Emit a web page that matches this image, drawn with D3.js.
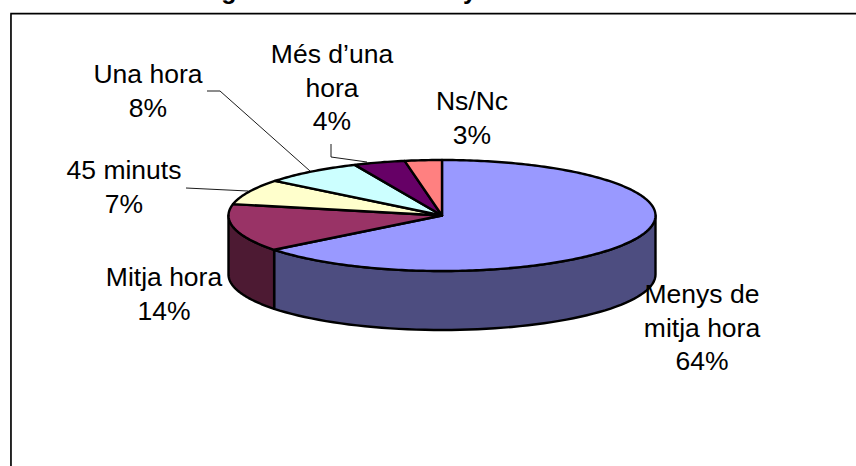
<!DOCTYPE html>
<html>
<head>
<meta charset="utf-8">
<style>
html,body{margin:0;padding:0;background:#fff}
svg{display:block}
text{font-family:"Liberation Sans",Arial,sans-serif;fill:#000}
</style>
<script src="https://cdn.jsdelivr.net/npm/d3@7/dist/d3.min.js"></script>
</head>
<body>
<svg id="c" width="856" height="466"></svg>
<script>
const categories = ["Menys de mitja hora","Mitja hora","45 minuts","Una hora","Més d’una hora","Ns/Nc"];
const values = [64.4,13.9,7.4,7.6,3.9,2.8];
const topColors = ["#9999FF","#993366","#FFFFCC","#CCFFFF","#660066","#FF8080"];
const sideColors = ["#4D4D80","#4D1A33","#80805F","#5F8080","#330033","#804040"];
const labelLines = [["Menys de","mitja hora","64%"],["Mitja hora","14%"],["45 minuts","7%"],["Una hora","8%"],["Més d’una","hora","4%"],["Ns/Nc","3%"]];
const labelX = [702,164,124,148,332,472];
const labelY = [303,286,179,83,63,110];
const leaders = [null,null,[[186,188],[248,191]],[[207,91],[220,91],[310,171]],[[331,144],[331,157],[367,162]],null];

const W=856,H=466,cx=442,cy=215.5,rx=213.5,ry=55.5,depth=59,lh=33.6,fs=26.5;
const svg=d3.select("#c");

// frame
const frame=svg.append("g").attr("fill","none");
frame.append("path").attr("d",`M10.5,${H}V14.5H${W}`).attr("stroke","#aaa").attr("stroke-width",1);
frame.append("path").attr("d",`M11,${H}V13.5H${W}`).attr("stroke","#000").attr("stroke-width",1.6);

// clipped chart title: only the descenders lie inside the picture
svg.selectAll("text.t").data([{s:"g",x:229},{s:"y",x:470}]).join("text").attr("class","t")
  .attr("x",d=>d.x).attr("y",-1).attr("text-anchor","middle")
  .attr("font-size",25).attr("font-weight","bold").text(d=>d.s);

const pie=d3.pie().sort(null).startAngle(0).endAngle(2*Math.PI);
const arcs=pie(values);
const xs=d3.scaleLinear().domain([-1,1]).range([cx-rx,cx+rx]);
const ys=d3.scaleLinear().domain([-1,1]).range([cy-ry,cy+ry]);
const px=a=>xs(Math.sin(a)), py=a=>ys(-Math.cos(a));

// side walls (front half of the ellipse only)
const wallLine=d3.line();
arcs.forEach((d,i)=>{
  const a0=Math.max(d.startAngle,Math.PI/2), a1=Math.min(d.endAngle,3*Math.PI/2);
  if(a1<=a0) return;
  const t=d3.range(0,61).map(k=>a0+(a1-a0)*k/60);
  const pts=t.map(a=>[px(a),py(a)]).concat(t.slice().reverse().map(a=>[px(a),py(a)+depth]));
  svg.append("path").attr("d",wallLine(pts)+"Z").attr("fill",sideColors[i])
    .attr("stroke","#000").attr("stroke-width",2.4).attr("stroke-linejoin","round");
});

// top face
const topLine=d3.line();
arcs.forEach((d,i)=>{
  const n=Math.max(8,Math.ceil((d.endAngle-d.startAngle)*60));
  const pts=[[cx,cy]].concat(d3.range(0,n+1).map(k=>{
    const a=d.startAngle+(d.endAngle-d.startAngle)*k/n; return [px(a),py(a)];
  }));
  svg.append("path").attr("d",topLine(pts)+"Z").attr("fill",topColors[i])
    .attr("stroke","#000").attr("stroke-width",2.4).attr("stroke-linejoin","round");
});

// leader lines
const ll=d3.line();
leaders.forEach(p=>{ if(p) svg.append("path").attr("d",ll(p)).attr("fill","none").attr("stroke","#000").attr("stroke-width",0.9); });

// labels
categories.forEach((c,i)=>{
  const t=svg.append("text").attr("text-anchor","middle").attr("font-size",fs).attr("aria-label",c);
  labelLines[i].forEach((s,j)=>t.append("tspan").attr("x",labelX[i]).attr("y",labelY[i]+j*lh).text(s));
});
</script>
</body>
</html>
